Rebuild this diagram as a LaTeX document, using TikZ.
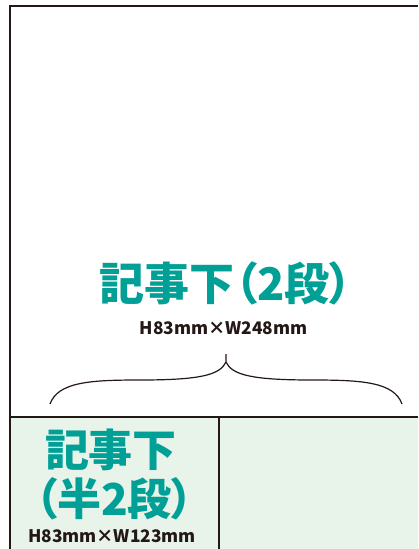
\documentclass[tikz,border=0pt]{standalone}
\usepackage{fontspec}
\newfontfamily\jpfont{Noto Sans CJK JP}[RawFeature=+palt]
\usetikzlibrary{positioning}
\definecolor{cmarco}{HTML}{231815}
\definecolor{cverde}{HTML}{00A096}
\definecolor{cfondo}{HTML}{E8F3EA}
\tikzset{
  marco/.style={draw=cmarco,line width=2pt},
  titulo/.style={font=\jpfont\bfseries\fontsize{45}{48}\selectfont,text=cverde,inner sep=0pt},
  titulob/.style={titulo,font=\jpfont\bfseries\fontsize{44}{48}\selectfont},
  medida/.style={font=\jpfont\bfseries\fontsize{17.3}{19}\selectfont,text=cmarco,inner sep=0pt},
  llave/.style={draw=cmarco,line width=1.2pt},
}

\begin{document}
\begin{tikzpicture}[x=1pt,y=-1pt]

\useasboundingbox (0,0) rectangle (418,549);
\fill[cfondo] (11,417) rectangle (418,549);

\coordinate (esqb) at (10,549);
\coordinate (esqd) at (418,6);
\coordinate (izq) at (10,417);
\coordinate (der) at (418,417);
\coordinate (div) at (218.5,417);
\coordinate (divb) at (218.5,549);

\draw[marco] (esqb) |- (esqd);
\draw[marco] (izq) -- (der);
\draw[marco] (div) -- (divb);

\node[titulo] (tit) at (226,283) {記事下（2段）};
\node[medida] (med) at (223.5,328) {H83mm×W248mm};
\node[titulob] (tita) at (111,450) {記事下};
\node[titulob] (titb) at (114.5,499) {（半2段）};
\node[medida] (medb) at (112,536) {H83mm×W123mm};

% llave
\coordinate (llaveI) at (50,404);
\coordinate (llaveD) at (402,404);
\coordinate (nudo) at (226,362);
\coordinate (pico) at (226,354);
\draw[llave] (llaveI) .. controls (58,382) and (90,380) .. (140,380)
  .. controls (200,380) and (220,375) .. (nudo) -- (pico);
\draw[llave] (nudo) .. controls (232,375) and (252,380) .. (312,380)
  .. controls (362,380) and (394,382) .. (llaveD);

\end{tikzpicture}
\end{document}
